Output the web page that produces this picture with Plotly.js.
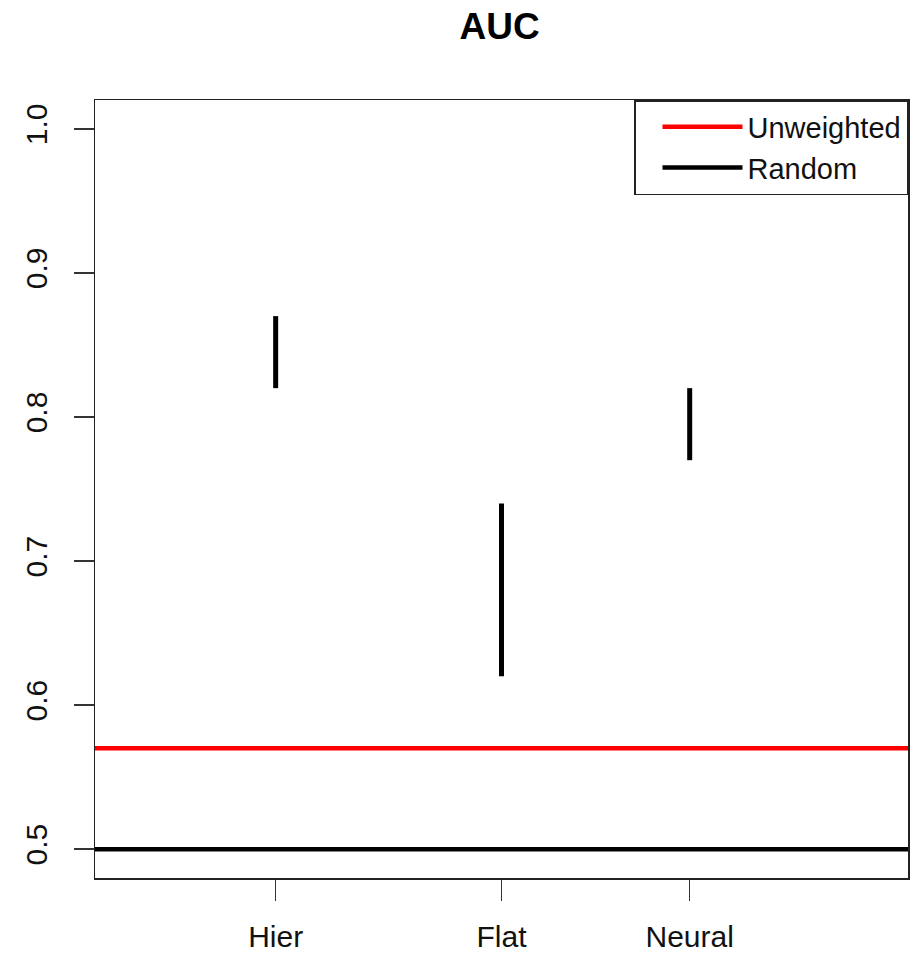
<!DOCTYPE html>
<html>
<head>
<meta charset="utf-8">
<script src="https://cdn.plot.ly/plotly-3.0.1.min.js"></script>
<style>html,body{margin:0;padding:0;background:#fff;}#chart{width:910px;height:956px;}</style>
</head>
<body>
<div id="chart"></div>
<script>
// Data
const categories = ["Hier", "Flat", "Neural"];
const xPositions = [0.8, 2, 3];
const lowerAUC = [0.82, 0.62, 0.77];
const upperAUC = [0.87, 0.74, 0.82];
const unweightedAUC = 0.57;
const randomAUC = 0.5;
const xRange = [-0.16, 4.16];
const yRange = [0.48, 1.02];
const yTicks = [0.5, 0.6, 0.7, 0.8, 0.9, 1.0];

const segX = [], segY = [];
for (let i = 0; i < categories.length; i++) {
  segX.push(xPositions[i], xPositions[i], null);
  segY.push(lowerAUC[i], upperAUC[i], null);
}

const font = "Liberation Sans, Arial, sans-serif";

const traces = [
  {x: segX, y: segY, mode: "lines", type: "scatter", line: {color: "#000", width: 5}, showlegend: false, hoverinfo: "skip"},
  {x: xRange, y: [unweightedAUC, unweightedAUC], mode: "lines", type: "scatter", name: "Unweighted", line: {color: "#ff0000", width: 4.5}},
  {x: xRange, y: [randomAUC, randomAUC], mode: "lines", type: "scatter", name: "Random", line: {color: "#000", width: 4.5}}
];

const layout = {
  width: 910, height: 956,
  margin: {l: 95, r: 2, t: 100, b: 78},
  paper_bgcolor: "#fff", plot_bgcolor: "#fff",
  font: {family: font, size: 31, color: "#000"},
  title: {text: "<b>AUC</b>", x: 0.549, xanchor: "center", y: 0.973, yanchor: "middle", font: {size: 37, family: font, color: "#000"}},
  xaxis: {
    range: xRange, tickmode: "array", tickvals: xPositions, ticktext: categories,
    showgrid: false, zeroline: false, showline: true, mirror: true, linecolor: "#222", linewidth: 1.5,
    ticks: "outside", ticklen: 21, tickwidth: 1.5, tickcolor: "#333", ticklabelstandoff: 10,
    tickfont: {size: 30, family: font, color: "#111"}
  },
  yaxis: {
    range: yRange, tickmode: "array", tickvals: yTicks, ticktext: yTicks.map(v => v.toFixed(1)),
    showgrid: false, zeroline: false, showline: true, mirror: true, linecolor: "#222", linewidth: 1.5,
    ticks: "outside", ticklen: 20, tickwidth: 1.5, tickcolor: "#333", tickangle: -90, ticklabelstandoff: 15,
    tickfont: {size: 30, family: font, color: "#111"}
  },
  legend: {
    x: 1, y: 1, xanchor: "right", yanchor: "top",
    bordercolor: "#222", borderwidth: 1.5, bgcolor: "#fff",
    font: {size: 29, family: font, color: "#111"},
    tracegroupgap: 0, itemwidth: 80, indentation: 22
  },
  showlegend: true
};

Plotly.newPlot("chart", traces, layout, {displayModeBar: false, staticPlot: true});
</script>
</body>
</html>
